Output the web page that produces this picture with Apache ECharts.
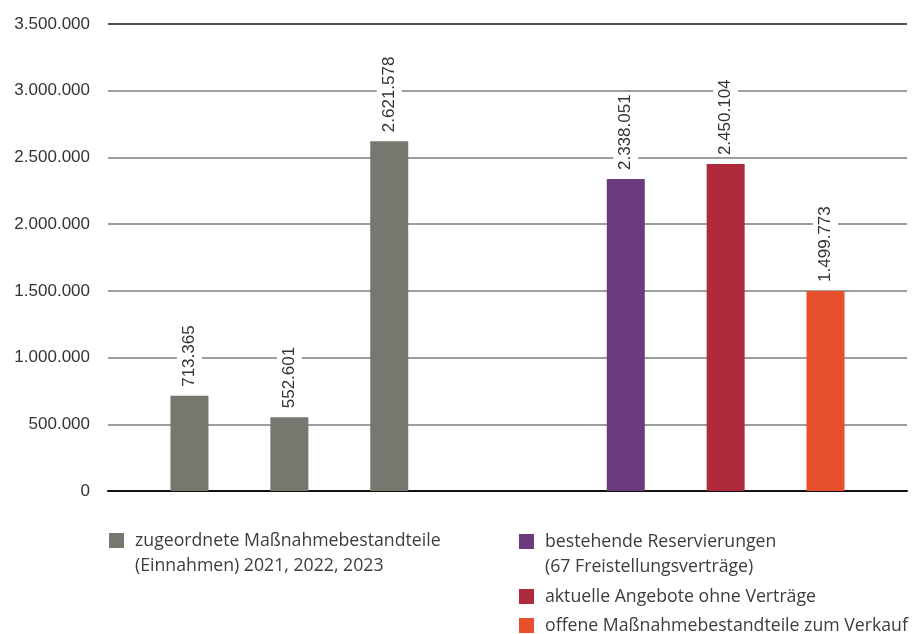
<!DOCTYPE html>
<html>
<head>
<meta charset="utf-8">
<script src="https://cdn.jsdelivr.net/npm/echarts@6/dist/echarts.min.js"></script>
<style>
  html, body { margin: 0; padding: 0; background: #fff; }
  #chart { width: 914px; height: 634px; }
</style>
</head>
<body>
<div id="chart"></div>
<script>
// Category slots along the x axis (empty slots keep the two groups apart)
const slots = ['2021', '2022', '2023', '', '', 'Res', 'Ang', 'Off'];

// Values per series, one entry per slot ('-' = no bar)
const assignedValues   = [713365, 552601, 2621578, '-', '-', '-', '-', '-'];
const reservedValues   = ['-', '-', '-', '-', '-', 2338051, '-', '-'];
const offersValues     = ['-', '-', '-', '-', '-', '-', 2450104, '-'];
const openValues       = ['-', '-', '-', '-', '-', '-', '-', 1499773];

// Series names as shown in the legend
const nameAssigned = 'zugeordnete Maßnahmebestandteile\n(Einnahmen) 2021, 2022, 2023';
const nameReserved = 'bestehende Reservierungen\n(67 Freistellungsverträge)';
const nameOffers   = 'aktuelle Angebote ohne Verträge';
const nameOpen     = 'offene Maßnahmebestandteile zum Verkauf';

// Value axis range
const yMin = 0, yMax = 3500000, yStep = 500000;

const fmt = v => String(Math.round(v)).replace(/\B(?=(\d{3})+(?!\d))/g, '.');

const COLORS = {
  assigned: '#77766f',
  reserved: '#6b3b7e',
  offers:   '#af2a3a',
  open:     '#e6502c'
};

const valueLabel = {
  show: true,
  position: 'top',
  rotate: 90,
  align: 'left',
  verticalAlign: 'middle',
  distance: 9,
  fontFamily: 'Liberation Sans',
  fontSize: 17,
  color: '#333',
  backgroundColor: '#fff',
  padding: [4, 0, 4, 0],
  formatter: p => fmt(p.value)
};

function bar(name, data, color, stack) {
  return {
    name: name,
    type: 'bar',
    data: data,
    stack: stack,
    barWidth: 38,
    barGap: '66%',
    itemStyle: { color: color },
    label: valueLabel,
    emphasis: { disabled: true }
  };
}

const legendText = {
  fontFamily: 'Open Sans',
  fontSize: 17.7,
  color: '#3c3c3c',
  lineHeight: 25,
  padding: [0, 0, 0, 6]
};

// Two-line legend entries: square sits beside the first line of text
const TOP_SQUARE = 'path://M0,5H15V20H0Z M0,0H0.01V0.01H0Z M0,49.99H0.01V50H0Z';

function legendBox(left, top, itemHeight, icon, name) {
  return {
    left: left, top: top, padding: 0,
    orient: 'vertical',
    itemWidth: 15, itemHeight: itemHeight,
    icon: icon,
    selectedMode: false,
    textStyle: legendText,
    data: [name]
  };
}

const chart = echarts.init(document.getElementById('chart'), null, { renderer: 'canvas' });
chart.setOption({
  animation: false,
  backgroundColor: '#fff',
  grid: { left: 108, right: 7, top: 24, bottom: 143, containLabel: false },
  xAxis: {
    type: 'category',
    data: slots,
    axisLine: { show: true, lineStyle: { color: '#111', width: 2 } },
    axisTick: { show: false },
    axisLabel: { show: false },
    splitLine: { show: false }
  },
  yAxis: {
    type: 'value',
    min: yMin, max: yMax, interval: yStep,
    axisLine: { show: false },
    axisTick: { show: false },
    axisLabel: {
      margin: 18,
      fontFamily: 'Liberation Sans',
      fontSize: 17,
      color: '#333',
      formatter: fmt
    },
    splitLine: {
      lineStyle: {
        width: 1.5,
        color: ['#111', '#7d7d7d', '#7d7d7d', '#7d7d7d', '#7d7d7d', '#7d7d7d', '#7d7d7d', '#1a1a1a']
      }
    }
  },
  legend: [
    legendBox(109, 528, 50, TOP_SQUARE, nameAssigned),
    legendBox(519, 529, 50, TOP_SQUARE, nameReserved),
    legendBox(519, 584, 15, 'rect', nameOffers),
    legendBox(519, 613, 15, 'rect', nameOpen)
  ],
  series: [
    bar(nameReserved, reservedValues, COLORS.reserved, 'right'),
    bar(nameOffers, offersValues, COLORS.offers, 'right'),
    bar(nameOpen, openValues, COLORS.open, 'right'),
    bar(nameAssigned, assignedValues, COLORS.assigned, 'left')
  ]
});
</script>
</body>
</html>
